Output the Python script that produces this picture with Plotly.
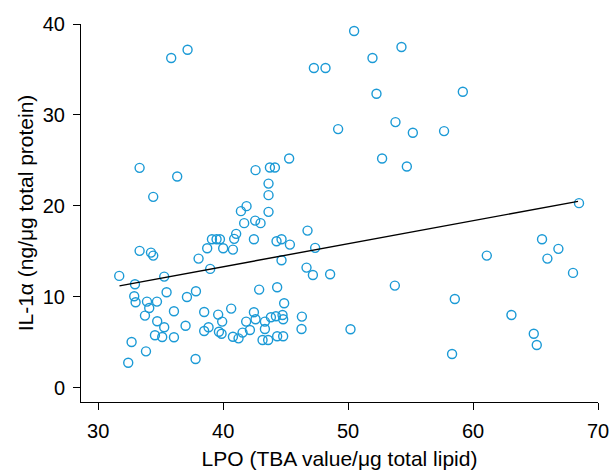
import plotly.graph_objects as go

lpo = [35.84, 37.15, 50.48, 54.27, 51.95, 47.26, 48.19, 52.27, 53.79, 55.18, 49.2,
       59.18, 57.68,
       33.31, 36.32, 34.4, 42.59, 41.87, 41.42, 41.68, 42.56, 42.99, 41.04, 40.88, 42.46,
       39.1, 39.47, 39.74, 38.72, 40.0, 40.78, 33.31, 34.22, 34.4, 38.03, 38.96, 31.68, 35.28,
       45.28, 52.72, 54.7, 43.74, 44.14, 43.63, 43.63, 43.63, 46.75, 44.27, 44.67, 45.34,
       47.36, 44.67, 46.67, 47.18, 48.56,
       68.48, 65.52, 61.1, 66.83, 65.95, 68.0,
       32.94, 32.88, 32.99, 33.9, 34.08, 33.74, 34.70, 35.47, 37.1, 37.82, 36.06, 34.72,
       35.28, 36.99, 34.54, 35.12, 36.06, 32.67, 33.82, 32.4, 37.79, 38.48, 39.6, 39.92,
       40.64, 38.48, 38.83, 39.66, 39.87, 40.78, 41.23, 41.55, 42.14, 41.84, 42.46, 42.59, 42.88,
       44.32, 53.74, 44.88, 43.34, 43.82, 44.22, 44.75, 44.8, 46.3, 46.27, 43.34, 43.15,
       43.6, 44.32, 44.8, 50.19,
       58.54, 63.07, 64.86, 65.1, 58.32]

il1a = [36.26, 37.17, 39.23, 37.47, 36.26, 35.16, 35.16, 32.33, 29.21, 28.04, 28.44,
        32.55, 28.22,
        24.18, 23.23, 20.99, 23.93, 19.97, 19.42, 18.1, 18.38, 18.1, 16.92, 16.37, 16.33,
        16.33, 16.33, 16.33, 15.34, 15.34, 15.19, 15.05, 14.86, 14.53, 14.2, 13.07, 12.3, 12.22,
        25.21, 25.21, 24.33, 24.22, 24.22, 22.45, 21.18, 19.34, 17.28, 16.11, 16.33, 15.74,
        15.38, 14.02, 13.21, 12.4, 12.48,
        20.3, 16.33, 14.53, 15.27, 14.2, 12.63,
        11.38, 10.06, 9.4, 9.47, 8.77, 7.93, 9.47, 10.5, 9.98, 10.61, 8.41, 7.31,
        6.65, 6.82, 5.77, 5.58, 5.55, 5.03, 4.0, 2.75, 3.16, 8.33, 8.04, 7.27,
        8.7, 6.24, 6.65, 6.16, 5.94, 5.61, 5.43, 6.06, 6.35, 7.27, 8.3, 7.53, 10.79,
        11.05, 11.23, 9.29, 7.27, 7.75, 7.86, 8.0, 7.53, 7.82, 6.46, 6.46, 5.25,
        5.25, 5.66, 5.66, 6.43,
        9.76, 8.0, 5.94, 4.7, 3.71]

fit_x = [31.7, 68.4]
fit_y = [11.2, 20.5]

x_ticks = [30, 40, 50, 60, 70]
y_ticks = [0, 10, 20, 30, 40]

FONT = "Liberation Sans, Arial, sans-serif"

fig = go.Figure()
fig.add_trace(go.Scatter(
    x=lpo, y=il1a, mode="markers",
    marker=dict(symbol="circle-open", size=9, color="#1b9ad6",
                line=dict(width=1.4, color="#1b9ad6")),
    showlegend=False, hoverinfo="x+y"))
fig.add_trace(go.Scatter(
    x=fit_x, y=fit_y, mode="lines",
    line=dict(color="black", width=1.4), showlegend=False))

axis_common = dict(showline=True, linecolor="black", linewidth=1,
                   ticks="outside", ticklen=7, tickwidth=1, tickcolor="black",
                   showgrid=False, zeroline=False, automargin=False,
                   tickfont=dict(family=FONT, size=20, color="black"))

fig.update_layout(
    width=612, height=470,
    margin=dict(l=81, r=14, t=24, b=68),
    paper_bgcolor="white", plot_bgcolor="white",
    xaxis=dict(range=[28.62, 70], tickvals=x_ticks, ticklabelstandoff=4,
               title=dict(text="LPO (TBA value/μg total lipid)",
                          font=dict(family=FONT, size=21, color="black"), standoff=13),
               **axis_common),
    yaxis=dict(range=[-1.57, 40], tickvals=y_ticks, ticklabelstandoff=4,
               title=dict(text="IL-1α (ng/μg total protein)",
                          font=dict(family=FONT, size=21, color="black"), standoff=3),
               **axis_common),
)

fig.write_html("out.html",
               config={"displayModeBar": False},
               post_script="document.body.style.margin='0';document.body.style.overflow='hidden';")
